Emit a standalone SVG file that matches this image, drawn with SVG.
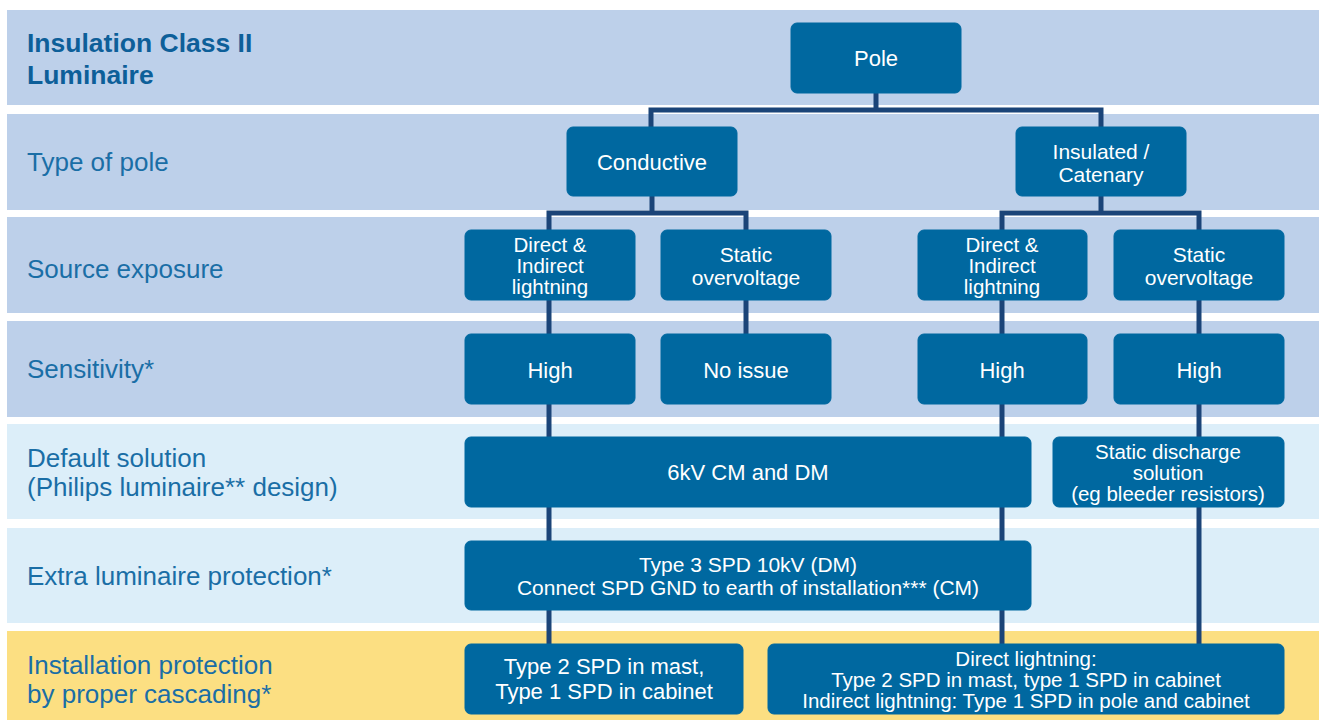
<svg xmlns="http://www.w3.org/2000/svg" width="1319" height="720" viewBox="0 0 1319 720">
<style>
.band1{fill:#BDD0EA}
.band2{fill:#DCEEF9}
.band3{fill:#FCDF82}
.lbl{font-family:"Liberation Sans",Arial,sans-serif;font-size:26px;fill:#1A6EA6}
.ttl{font-family:"Liberation Sans",Arial,sans-serif;font-size:26.5px;font-weight:bold;fill:#0D5F99}
.box{fill:#0068A0;stroke:#0068A0;stroke-width:1}
.bt{font-family:"Liberation Sans",Arial,sans-serif;font-size:22px;fill:#FFFFFF;text-anchor:middle}
.bt2{font-family:"Liberation Sans",Arial,sans-serif;font-size:21px;fill:#FFFFFF;text-anchor:middle}
.bt3{font-family:"Liberation Sans",Arial,sans-serif;font-size:20.5px;fill:#FFFFFF;text-anchor:middle}
.con{fill:none;stroke:#1B4478;stroke-width:5;stroke-linejoin:miter;stroke-linecap:butt}
</style>
<rect width="1319" height="720" fill="#FFFFFF"/>
<g id="bands">
<rect class="band1" x="7" y="10" width="1312" height="95"/>
<rect class="band1" x="7" y="114" width="1312" height="96"/>
<rect class="band1" x="7" y="217" width="1312" height="96"/>
<rect class="band1" x="7" y="321" width="1312" height="96"/>
<rect class="band2" x="7" y="424" width="1312" height="95"/>
<rect class="band2" x="7" y="528" width="1312" height="95"/>
<rect class="band3" x="7" y="631" width="1312" height="89"/>
</g>
<g id="labels">
<text class="ttl" x="27" y="52">Insulation Class II</text>
<text class="ttl" x="27" y="84">Luminaire</text>
<text class="lbl" x="27" y="171">Type of pole</text>
<text class="lbl" x="27" y="278">Source exposure</text>
<text class="lbl" x="27" y="378">Sensitivity*</text>
<text class="lbl" x="27" y="467">Default solution</text>
<text class="lbl" x="27" y="496">(Philips luminaire** design)</text>
<text class="lbl" x="27" y="585">Extra luminaire protection*</text>
<text class="lbl" x="27" y="674">Installation protection</text>
<text class="lbl" x="27" y="703">by proper cascading*</text>
</g>
<g id="connectors">
<path class="con" d="M876 93 V110"/>
<path class="con" d="M651 127 V110 H1101 V127"/>
<path class="con" d="M652 196 V213"/>
<path class="con" d="M549 644 V213 H746 V334"/>
<path class="con" d="M1101 196 V213"/>
<path class="con" d="M1002 644 V213 H1199 V644"/>
</g>
<g id="pole"><rect class="box" x="791" y="23" width="170" height="70" rx="6"/><text class="bt" x="876" y="66">Pole</text></g>
<g id="conductive"><rect class="box" x="567" y="127" width="170" height="69" rx="6"/><text class="bt" x="652" y="170">Conductive</text></g>
<g id="insulated"><rect class="box" x="1016" y="127" width="170" height="69" rx="6"/><text class="bt2" x="1101" y="159">Insulated /</text><text class="bt2" x="1101" y="182">Catenary</text></g>
<g id="src-l1"><rect class="box" x="465" y="230" width="170" height="70" rx="6"/><text class="bt3" x="550" y="252">Direct &amp;</text><text class="bt3" x="550" y="273">Indirect</text><text class="bt3" x="550" y="294">lightning</text></g>
<g id="src-l2"><rect class="box" x="661" y="230" width="170" height="70" rx="6"/><text class="bt2" x="746" y="262">Static</text><text class="bt2" x="746" y="285">overvoltage</text></g>
<g id="src-r1"><rect class="box" x="918" y="230" width="169" height="70" rx="6"/><text class="bt3" x="1002" y="252">Direct &amp;</text><text class="bt3" x="1002" y="273">Indirect</text><text class="bt3" x="1002" y="294">lightning</text></g>
<g id="src-r2"><rect class="box" x="1114" y="230" width="170" height="70" rx="6"/><text class="bt2" x="1199" y="262">Static</text><text class="bt2" x="1199" y="285">overvoltage</text></g>
<g id="sens-l1"><rect class="box" x="465" y="334" width="170" height="70" rx="6"/><text class="bt" x="550" y="378">High</text></g>
<g id="sens-l2"><rect class="box" x="661" y="334" width="170" height="70" rx="6"/><text class="bt" x="746" y="378">No issue</text></g>
<g id="sens-r1"><rect class="box" x="918" y="334" width="169" height="70" rx="6"/><text class="bt" x="1002" y="378">High</text></g>
<g id="sens-r2"><rect class="box" x="1114" y="334" width="170" height="70" rx="6"/><text class="bt" x="1199" y="378">High</text></g>
<g id="default-6kv"><rect class="box" x="465" y="437" width="566" height="70" rx="6"/><text class="bt" x="748" y="480">6kV CM and DM</text></g>
<g id="default-static"><rect class="box" x="1053" y="437" width="231" height="70" rx="6"/><text class="bt3" x="1168" y="459">Static discharge</text><text class="bt3" x="1168" y="480">solution</text><text class="bt3" x="1168" y="501">(eg bleeder resistors)</text></g>
<g id="extra"><rect class="box" x="465" y="541" width="566" height="69" rx="6"/><text class="bt2" x="748" y="572">Type 3 SPD 10kV (DM)</text><text class="bt2" x="748" y="595">Connect SPD GND to earth of installation*** (CM)</text></g>
<g id="install-l"><rect class="box" x="465" y="644" width="278" height="70" rx="6"/><text class="bt" x="604" y="674">Type 2 SPD in mast,</text><text class="bt" x="604" y="699">Type 1 SPD in cabinet</text></g>
<g id="install-r"><rect class="box" x="768" y="644" width="516" height="70" rx="6"/><text class="bt3" x="1026" y="666">Direct lightning:</text><text class="bt3" x="1026" y="687">Type 2 SPD in mast, type 1 SPD in cabinet</text><text class="bt3" x="1026" y="708">Indirect lightning: Type 1 SPD in pole and cabinet</text></g>
</svg>
